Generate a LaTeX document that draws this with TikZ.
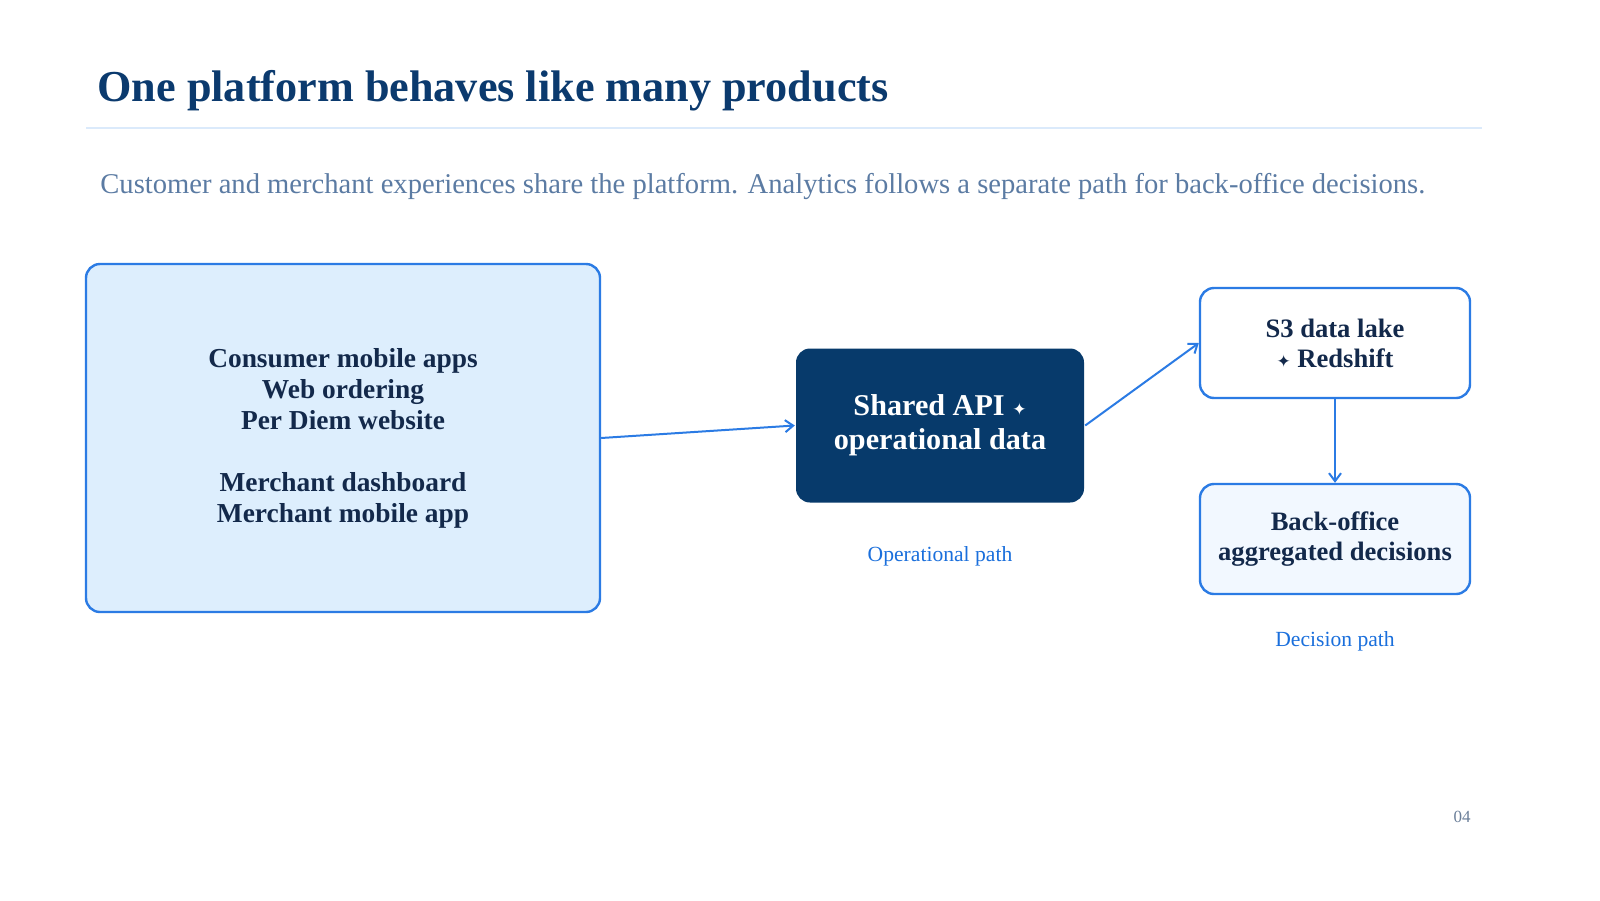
\documentclass[tikz,border=0pt]{standalone}
\usepackage{fontspec}
\setmainfont{Liberation Serif}
\newfontfamily\symfont{DejaVu Sans}
\usetikzlibrary{arrows.meta}
\definecolor{navy}{HTML}{0B3A6E}
\definecolor{inkdark}{HTML}{13294B}
\definecolor{subgrey}{HTML}{5B7BA3}
\definecolor{rulelight}{HTML}{DBEAFB}
\definecolor{edgeblue}{HTML}{2B7BE4}
\definecolor{lightfill}{HTML}{DDEEFD}
\definecolor{palefill}{HTML}{F2F8FF}
\definecolor{deepblue}{HTML}{073A6B}
\definecolor{pathblue}{HTML}{1A6FDC}
\definecolor{pagegrey}{HTML}{6B7F99}
\tikzset{
    panel/.style={draw=edgeblue, line width=1.2pt, rounded corners=7pt, align=center,
        text=inkdark, font=\bfseries},
    flow/.style={draw=edgeblue, line width=1pt, -{Straight Barb[length=4pt,width=6pt]}},
    pathlabel/.style={text=pathblue, font=\fontsize{10.8}{13}\selectfont}
}
\newcommand{\spark}{{\symfont\fontsize{8.5}{10}\selectfont ✦}}
\begin{document}
\begin{tikzpicture}[x=0.5pt,y=-0.5pt]
                    \useasboundingbox[fill=white] (0,0) rectangle (1600,900);
                    \node[anchor=base west, text=navy, font=\fontsize{22.1}{26}\selectfont\bfseries, inner sep=0pt] (title) at (97,101) {One platform behaves like many products};
                    \draw[rulelight, line width=1pt] (86,128) -- (1482,128);
                    \node[anchor=base west, text=subgrey, font=\fontsize{14.3}{17}\selectfont, inner sep=0pt] (subtitle) at (100,193) {Customer and merchant experiences share the platform. Analytics follows a separate path for back-office decisions.};
                    \node[panel, fill=lightfill, minimum width=257pt, minimum height=174pt, font=\fontsize{13.7}{15.5}\selectfont\bfseries] (clients) at (343,438)
                        {Consumer mobile apps\\Web ordering\\Per Diem website\\[15.5pt]Merchant dashboard\\Merchant mobile app};
                    \node[panel, draw=none, fill=deepblue, text=white, minimum width=144pt, minimum height=77pt, font=\fontsize{15.1}{17}\selectfont\bfseries] (api) at (940,425.5)
                        {Shared API \spark\\operational data};
                    \node[panel, fill=white, minimum width=135pt, minimum height=55pt, font=\fontsize{13.3}{15}\selectfont\bfseries] (lake) at (1335,343)
                        {S3 data lake\\\spark\ Redshift};
                    \node[panel, fill=palefill, minimum width=135pt, minimum height=55pt, font=\fontsize{13.3}{15}\selectfont\bfseries] (backoffice) at (1335,539)
                        {Back-office\\aggregated decisions};
                    \node[pathlabel] (oplabel) at (940,556) {Operational path};
                    \node[pathlabel] (declabel) at (1335,641) {Decision path};
                    \node[text=pagegrey, font=\fontsize{8.5}{10}\selectfont] (pagenum) at (1462,817) {04};
                    \draw[flow] (clients.east) -- (api.west);
                    \draw[flow] (api.east) -- (lake.west);
                    \draw[flow] (lake.south) -- (backoffice.north);
                \end{tikzpicture}
\end{document}
